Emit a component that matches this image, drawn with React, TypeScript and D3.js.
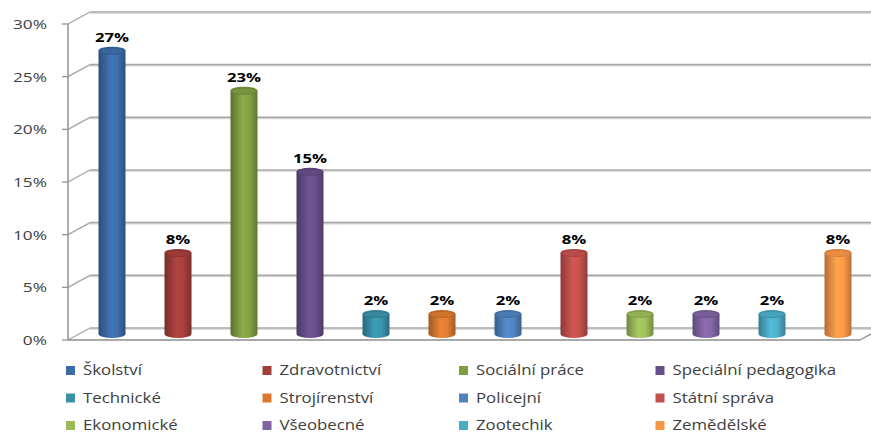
import React from "react";
import * as d3 from "d3";

const categories = [
  "Školství", "Zdravotnictví", "Sociální práce", "Speciální pedagogika",
  "Technické", "Strojírenství", "Policejní", "Státní správa",
  "Ekonomické", "Všeobecné", "Zootechik", "Zemědělské",
];
const values = [26.9, 7.7, 23.1, 15.4, 1.9, 1.9, 1.9, 7.7, 1.9, 1.9, 1.9, 7.7];
const colors = [
  "#3D6BA6", "#A33E3B", "#7E9D41", "#664E88", "#3A90A8", "#DA7A30",
  "#4F81BD", "#C0504D", "#9BBB59", "#8064A2", "#4BACC6", "#F79646",
];
const yTicks = [0, 5, 10, 15, 20, 25, 30];

const W = 871;
const H = 434;
const FRONT_LEFT = 68;
const FRONT_RIGHT = 860;
const Y0 = 340;
const Y30 = 24;
const DX = 22;
const DY = -12;
const SX = 1.28;

export default function App() {
  const x = d3.scaleBand<string>().domain(categories).range([FRONT_LEFT, FRONT_RIGHT]);
  const y = d3.scaleLinear().domain([0, 30]).range([Y0, Y30]);
  const rx = 13.5;
  const ry = 4;
  const font = "'Open Sans', sans-serif";

  return (
    <svg width={W} height={H} style={{ position: "absolute", left: 0, top: 0, background: "#fff" }}>
      <defs>
        {colors.map((c, i) => {
          const base = d3.color(c)!;
          return (
            <linearGradient key={i} id={`g${i}`} x1="0" x2="1" y1="0" y2="0">
              <stop offset="0%" stopColor={base.darker(0.9).formatHex()} />
              <stop offset="45%" stopColor={base.brighter(0.25).formatHex()} />
              <stop offset="70%" stopColor={base.brighter(0.1).formatHex()} />
              <stop offset="100%" stopColor={base.darker(0.8).formatHex()} />
            </linearGradient>
          );
        })}
      </defs>

      {/* back wall gridlines */}
      {yTicks.map((t) => (
        <g key={t}>
          <line x1={FRONT_LEFT + DX} x2={W} y1={y(t) + DY + 1.5} y2={y(t) + DY + 1.5} stroke="#DCDCDC" strokeWidth={1} />
          <line x1={FRONT_LEFT + DX} x2={W} y1={y(t) + DY} y2={y(t) + DY} stroke="#A6A6A6" strokeWidth={1.6} />
          <line x1={FRONT_LEFT} x2={FRONT_LEFT + DX} y1={y(t)} y2={y(t) + DY} stroke="#A6A6A6" strokeWidth={1.4} />
          <line x1={FRONT_LEFT - 6} x2={FRONT_LEFT} y1={y(t)} y2={y(t)} stroke="#8C8C8C" strokeWidth={1.2} />
          <text
            transform={`translate(47,${y(t) + 5}) scale(${SX},1)`}
            textAnchor="end"
            fontFamily={font}
            fontSize={13.5}
            fill="#404040"
          >
            {`${t}%`}
          </text>
        </g>
      ))}

      {/* left axis */}
      <line x1={FRONT_LEFT} x2={FRONT_LEFT} y1={y(30)} y2={y(0)} stroke="#8C8C8C" strokeWidth={1.4} />
      {/* floor front edge */}
      <line x1={FRONT_LEFT} x2={FRONT_RIGHT} y1={y(0)} y2={y(0)} stroke="#8C8C8C" strokeWidth={1.4} />
      <line x1={FRONT_RIGHT} x2={FRONT_RIGHT + DX} y1={y(0)} y2={y(0) + DY} stroke="#8C8C8C" strokeWidth={1.2} />

      {/* cylinders */}
      {categories.map((c, i) => {
        const cx = (x(c) ?? 0) + x.bandwidth() / 2 + DX / 2;
        const base = y(0) + DY / 2;
        const top = base - (y(0) - y(values[i]));
        const col = d3.color(colors[i])!;
        return (
          <g key={c}>
            <path
              d={`M${cx - rx},${top} L${cx - rx},${base} A${rx},${ry} 0 0 0 ${cx + rx},${base} L${cx + rx},${top} Z`}
              fill={`url(#g${i})`}
            />
            <ellipse cx={cx} cy={top} rx={rx} ry={ry} fill={col.darker(0.45).formatHex()} />
            <ellipse cx={cx} cy={top + 0.4} rx={rx - 2} ry={ry - 1.3} fill={col.darker(0.15).formatHex()} />
            <text
              transform={`translate(${cx},${top - 9}) scale(${SX},1)`}
              textAnchor="middle"
              fontFamily={font}
              fontWeight="bold"
              fontSize={13}
              fill="#000"
            >
              {`${Math.round(values[i])}%`}
            </text>
          </g>
        );
      })}

      {/* legend */}
      {categories.map((c, i) => {
        const col = i % 4;
        const row = Math.floor(i / 4);
        const lx = 66 + col * 196.5;
        const ly = 370.5 + row * 27.5;
        return (
          <g key={`l${c}`}>
            <rect x={lx} y={ly - 4.5} width={9} height={9} fill={colors[i]} />
            <text
              transform={`translate(${lx + 17},${ly + 4.5}) scale(1.2,1)`}
              fontFamily={font}
              fontSize={14}
              fill="#404040"
            >
              {c}
            </text>
          </g>
        );
      })}
    </svg>
  );
}
